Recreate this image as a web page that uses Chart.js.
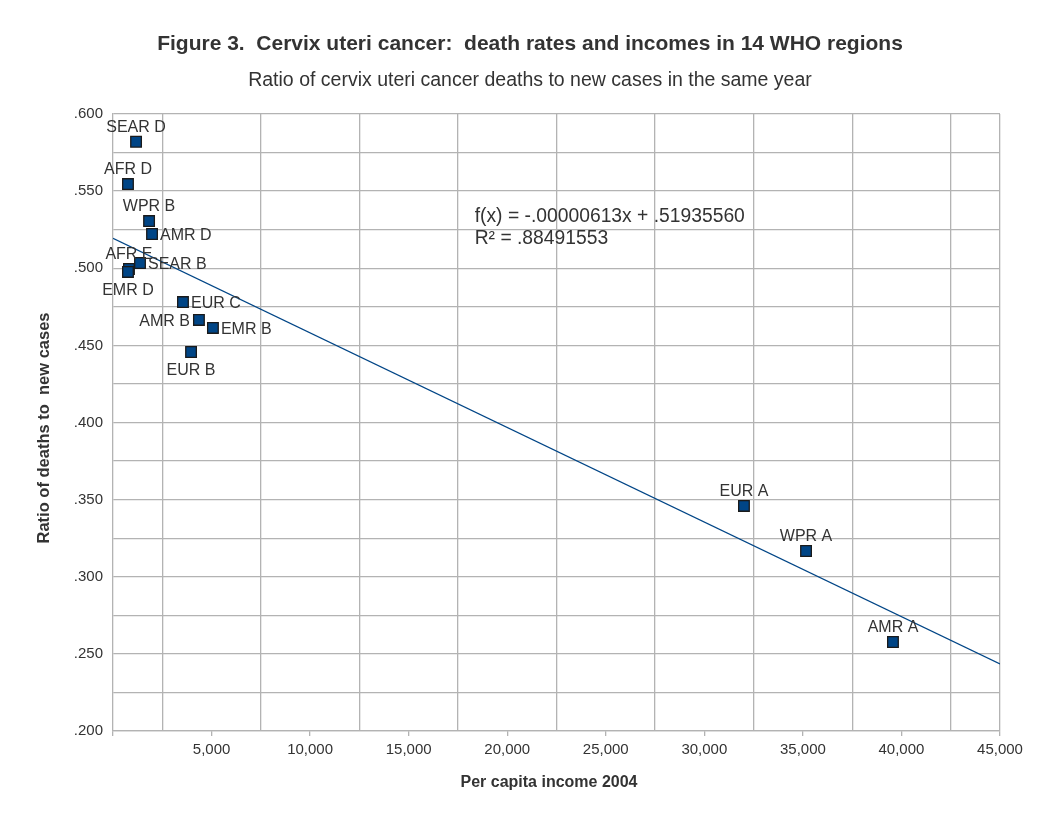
<!DOCTYPE html>
<html>
<head>
<meta charset="utf-8">
<script src="https://cdn.jsdelivr.net/npm/chart.js@4/dist/chart.umd.min.js"></script>
<style>
  html, body { margin: 0; padding: 0; background: #ffffff; }
  #wrap { width: 1056px; height: 816px; }
</style>
</head>
<body>
<div id="wrap"><canvas id="chart" width="1056" height="816"></canvas></div>
<script>
// Region names, incomes and death/case ratios
const regions = ["SEAR D", "AFR D", "WPR B", "AMR D", "SEAR B", "AFR E", "EMR D",
                 "EUR C", "AMR B", "EMR B", "EUR B", "EUR A", "WPR A", "AMR A"];
const incomes = [1170, 760, 1830, 1980, 1370, 810, 760,
                 3550, 4360, 5070, 3960, 32010, 35160, 39570];
const ratios = [0.582, 0.5546, 0.5306, 0.5222, 0.5034, 0.4995, 0.4976,
                0.4781, 0.4665, 0.4613, 0.4457, 0.3459, 0.3167, 0.2577];
// Where each name sits relative to its marker
const labelSides = ["above", "above", "above", "right", "right", "above", "below",
                    "right", "left", "right", "below", "above", "above", "above"];

// Linear trend line as printed on the chart
const slope = -0.00000613;
const intercept = 0.51935560;
const rSquared = ".88491553";
const trendX = [0, 45000];

const titleText = "Figure 3.  Cervix uteri cancer:  death rates and incomes in 14 WHO regions";
const subtitleText = "Ratio of cervix uteri cancer deaths to new cases in the same year";
const xTitleText = "Per capita income 2004";
const yTitleText = "Ratio of deaths to  new cases";

const TEXT = "#333333";
const BLUE = "#004586";
const GRID = "#b3b3b3";
const FONT = "'Liberation Sans', Arial, sans-serif";
Chart.defaults.font.family = FONT;
Chart.defaults.color = TEXT;

// Draws the titles, the region names and the trend equation
const annotations = {
    id: "annotations",
    afterDatasetsDraw(chart) {
        const ctx = chart.ctx;
        const meta = chart.getDatasetMeta(0);
        ctx.save();
        ctx.fillStyle = TEXT;
        ctx.textBaseline = "middle";

        // Region names
        ctx.font = "16px " + FONT;
        meta.data.forEach((pt, i) => {
            const side = labelSides[i];
            let x = pt.x, y = pt.y + 2;
            if (side === "above") { ctx.textAlign = "center"; y -= 16; }
            else if (side === "below") { ctx.textAlign = "center"; y += 17; }
            else if (side === "right") { ctx.textAlign = "left"; x += 8; }
            else { ctx.textAlign = "right"; x -= 9; }
            ctx.fillText(regions[i], x, y);
        });

        // Trend equation
        const xs = chart.scales.x, ys = chart.scales.y;
        const tx = xs.getPixelForValue(18350);
        const ty = ys.getPixelForValue(0.5335);
        ctx.font = "19.3px " + FONT;
        ctx.textAlign = "left";
        ctx.fillText("f(x) = " + slope.toFixed(8).replace("0.", ".") + "x + " +
                     intercept.toFixed(8).replace("0.", "."), tx, ty);
        ctx.fillText("R² = " + rSquared, tx, ty + 22);

        // Titles
        ctx.textAlign = "center";
        ctx.font = "bold 21px " + FONT;
        ctx.fillText(titleText, 530, 44);
        ctx.font = "19.5px " + FONT;
        ctx.fillText(subtitleText, 530, 81);
        ctx.font = "bold 16px " + FONT;
        ctx.fillText(xTitleText, 549, 783);
        ctx.translate(44, 428);
        ctx.rotate(-Math.PI / 2);
        ctx.font = "bold 16.5px " + FONT;
        ctx.fillText(yTitleText, 0, 0);
        ctx.restore();
    }
};

new Chart(document.getElementById("chart"), {
    type: "scatter",
    data: {
        datasets: [
            {
                data: incomes.map((v, i) => ({ x: v, y: ratios[i] })),
                pointStyle: "rect",
                pointRadius: 7.5,
                pointHoverRadius: 7.5,
                backgroundColor: BLUE,
                borderColor: "#1a1a1a",
                borderWidth: 1.3,
                order: 1
            },
            {
                type: "line",
                data: trendX.map(v => ({ x: v, y: slope * v + intercept })),
                borderColor: BLUE,
                borderWidth: 1.3,
                pointRadius: 0,
                fill: false,
                order: 2
            }
        ]
    },
    options: {
        responsive: false,
        animation: false,
        layout: { padding: { left: 0, right: 56, top: 114, bottom: 0 } },
        plugins: {
            legend: { display: false },
            tooltip: { enabled: false },
            title: { display: false },
            subtitle: { display: false }
        },
        scales: {
            x: {
                type: "linear",
                min: 0,
                max: 45000,
                afterFit: s => { s.height = 85; },
                ticks: {
                    stepSize: 2500,
                    autoSkip: false,
                    maxRotation: 0,
                    font: { size: 15 },
                    color: TEXT,
                    padding: 5,
                    callback: (v, i) => (i % 2 === 0 && v !== 0) ? v.toLocaleString("en-US") : ""
                },
                grid: {
                    color: c => (c.index % 2 === 1 || c.tick.value === 45000) ? GRID : "rgba(0,0,0,0)",
                    tickColor: c => c.index % 2 === 0 ? GRID : "rgba(0,0,0,0)",
                    tickLength: 5,
                    lineWidth: 1.3
                },
                border: { color: GRID, width: 1.3 }
            },
            y: {
                min: 0.2,
                max: 0.6,
                afterFit: s => { s.width = 113; },
                ticks: {
                    stepSize: 0.025,
                    autoSkip: false,
                    font: { size: 15 },
                    color: TEXT,
                    padding: 10,
                    callback: (v, i) => i % 2 === 0 ? v.toFixed(3).replace("0.", ".") : ""
                },
                grid: {
                    color: GRID,
                    lineWidth: 1.3,
                    drawTicks: false
                },
                border: { color: GRID, width: 1.3 }
            }
        }
    },
    plugins: [annotations]
});
</script>
</body>
</html>
